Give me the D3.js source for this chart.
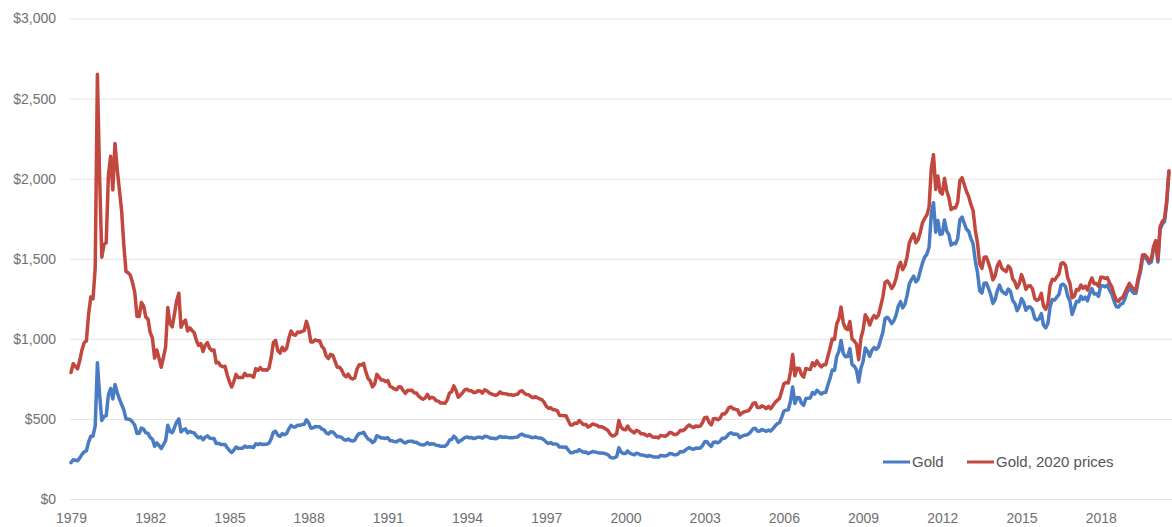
<!DOCTYPE html>
<html>
<head>
<meta charset="utf-8">
<script src="https://cdn.jsdelivr.net/npm/d3@7"></script>
<style>
  html, body { margin: 0; padding: 0; background: #fff; }
  svg { display: block; }
  text { font-family: "Liberation Sans", Arial, sans-serif; }
</style>
</head>
<body>
<svg id="chart" width="1172" height="527"></svg>
<script>
// ---- Data (monthly, starting Jan 1979) ----
const startYear = 1979;
const seriesNames = ["Gold", "Gold, 2020 prices"];
const seriesColors = ["#4a7cc3", "#c2473f"];

const gold = [
  227,245,242,239,257,279,295,301,355,392,392,456,
  850,650,490,515,520,650,690,625,715,665,625,590,
  557,500,499,495,480,460,409,410,443,437,413,410,
  384,374,330,350,334,315,339,364,460,422,414,445,
  481,500,419,432,438,413,422,416,412,394,382,388,
  370,386,394,381,377,378,347,348,341,340,341,320,
  303,290,304,324,316,317,317,330,323,326,325,322,
  345,339,346,340,342,342,348,376,418,423,398,391,
  408,401,409,438,460,450,450,461,460,465,467,495,
  477,442,444,452,451,451,437,432,413,406,420,419,
  404,388,390,384,371,367,375,365,362,367,394,409,
  410,417,393,374,369,352,362,395,389,381,381,378,
  383,364,363,358,357,367,368,356,349,359,360,361,
  354,354,345,339,337,341,353,341,345,344,335,334,
  329,329,330,342,367,372,392,379,355,364,373,383,
  387,382,384,377,381,386,385,380,392,390,384,379,
  379,376,382,391,385,387,386,383,383,383,386,387,
  400,405,396,393,392,385,383,387,383,381,378,369,
  355,347,352,344,344,341,324,324,323,325,306,289,
  289,297,296,308,299,292,293,284,289,296,294,291,
  287,287,286,282,277,262,256,257,265,320,293,284,
  284,300,286,280,275,286,282,274,274,270,266,272,
  265,262,263,261,272,270,268,273,284,283,276,276,
  282,296,294,302,314,321,314,310,319,317,319,333,
  357,359,340,328,355,356,351,360,379,379,389,407,
  414,405,406,403,383,392,398,400,406,420,439,442,
  424,423,434,429,422,431,424,438,456,470,476,510,
  549,555,557,610,700,596,633,632,598,585,627,629,
  631,665,655,679,667,655,665,665,712,754,806,803,
  889,922,990,909,888,889,939,839,829,806,730,816,
  858,943,924,890,928,946,934,949,996,1043,1127,1135,
  1118,1095,1113,1148,1205,1232,1193,1215,1271,1343,1370,1391,
  1356,1372,1424,1474,1510,1529,1572,1780,1850,1666,1739,1652,
  1656,1742,1673,1650,1585,1596,1594,1626,1744,1760,1721,1684,
  1671,1627,1593,1487,1414,1300,1286,1347,1349,1316,1275,1221,
  1244,1300,1336,1299,1287,1279,1311,1296,1238,1222,1176,1201,
  1251,1227,1179,1198,1199,1181,1128,1117,1125,1157,1086,1068,
  1097,1200,1246,1242,1260,1276,1337,1341,1326,1267,1236,1152,
  1192,1234,1231,1266,1246,1260,1237,1283,1314,1280,1282,1265,
  1331,1331,1325,1335,1304,1281,1238,1202,1198,1215,1221,1250,
  1291,1320,1300,1285,1284,1359,1413,1500,1510,1495,1471,1480,
  1560,1597,1480,1683,1716,1732,1846,2040
];

const gold2020 = [
  790,845,828,813,866,932,976,987,1154,1262,1250,1441,
  2652,2010,1510,1590,1600,2020,2140,1930,2220,2060,1930,1800,
  1587,1420,1412,1396,1349,1288,1141,1140,1227,1206,1136,1123,
  1040,1005,880,930,880,822,885,950,1196,1095,1075,1153,
  1236,1285,1073,1102,1117,1049,1068,1052,1038,989,959,970,
  921,961,977,941,927,930,850,853,832,826,829,774,
  733,699,733,778,758,758,758,785,769,773,770,760,
  814,803,820,806,807,804,818,884,978,990,927,911,
  947,926,941,1003,1049,1026,1022,1042,1040,1046,1051,1109,
  1064,981,981,994,988,988,953,937,892,877,903,897,
  861,823,823,806,775,763,780,756,749,756,812,838,
  836,847,794,752,738,700,717,778,762,743,743,733,
  739,703,697,687,682,701,699,676,660,679,677,679,
  662,662,642,631,623,631,653,627,635,630,613,611,
  599,599,597,619,661,670,706,678,635,648,664,682,
  685,676,676,664,667,676,674,661,682,675,664,656,
  652,647,653,669,658,658,656,651,651,647,652,654,
  672,676,661,652,651,639,632,639,632,625,620,605,
  579,566,570,557,557,552,522,522,520,520,490,462,
  462,475,471,490,475,464,466,449,457,468,465,460,
  451,451,446,437,429,406,394,396,408,490,448,435,
  432,456,432,423,413,429,423,408,408,402,394,403,
  390,385,387,381,397,394,391,399,415,413,403,403,
  412,429,426,435,452,462,452,446,456,453,456,476,
  507,510,479,462,501,502,495,504,531,531,545,570,
  575,563,560,556,525,537,545,548,552,571,597,601,
  572,571,582,575,565,578,564,583,602,616,628,673,
  719,727,724,793,903,769,817,815,777,761,815,811,
  808,851,832,862,840,825,838,838,890,943,999,996,
  1093,1125,1198,1100,1066,1058,1108,998,987,967,870,1004,
  1055,1150,1127,1086,1123,1145,1130,1148,1205,1262,1352,1362,
  1342,1314,1336,1378,1446,1478,1432,1458,1512,1598,1630,1655,
  1600,1619,1666,1725,1752,1774,1824,2065,2150,1933,2017,1916,
  1904,2003,1924,1881,1807,1819,1817,1854,1988,2006,1962,1920,
  1888,1839,1800,1680,1598,1469,1440,1509,1511,1474,1428,1368,
  1393,1456,1483,1442,1429,1420,1455,1439,1374,1356,1317,1345,
  1401,1362,1309,1330,1331,1311,1252,1240,1249,1284,1205,1185,
  1218,1332,1371,1366,1386,1404,1471,1475,1459,1381,1347,1256,
  1264,1308,1305,1336,1315,1329,1305,1347,1380,1344,1346,1328,
  1384,1384,1378,1382,1350,1326,1281,1244,1234,1251,1258,1288,
  1317,1346,1326,1311,1303,1379,1434,1523,1525,1510,1486,1495,
  1576,1613,1495,1700,1733,1749,1864,2050
];

const yTicks = [0, 500, 1000, 1500, 2000, 2500, 3000];
const xTicks = [1979, 1982, 1985, 1988, 1991, 1994, 1997, 2000, 2003, 2006, 2009, 2012, 2015, 2018];

// ---- Chart ----
const svg = d3.select("#chart");
const plotLeft = 70, plotRight = 1172, plotTop = 18.5, plotBottom = 499;

const x = d3.scaleLinear().domain([1979, 2020.7]).range([71, plotRight]);
const y = d3.scaleLinear().domain([0, 3000]).range([plotBottom, plotTop]);

// Y axis with gridlines
const yAxis = d3.axisLeft(y)
  .tickValues(yTicks)
  .tickSize(-(plotRight - plotLeft))
  .tickPadding(14)
  .tickFormat(d => "$" + d3.format(",")(d));

const gy = svg.append("g")
  .attr("transform", `translate(${plotLeft},0)`)
  .call(yAxis);
gy.select(".domain").remove();
gy.selectAll(".tick line").attr("stroke", "#e3e3e3").attr("stroke-width", 1);
gy.selectAll(".tick text")
  .attr("fill", "#707070")
  .style("font-size", "14px")
  .style("font-family", "'Liberation Sans', Arial, sans-serif");

// X axis
const xAxis = d3.axisBottom(x)
  .tickValues(xTicks)
  .tickSize(0)
  .tickPadding(14)
  .tickFormat(d3.format("d"));

const gx = svg.append("g")
  .attr("transform", `translate(0,${plotBottom})`)
  .call(xAxis);
gx.select(".domain").remove();
gx.selectAll(".tick text")
  .attr("fill", "#707070")
  .style("font-size", "14px")
  .style("font-family", "'Liberation Sans', Arial, sans-serif");

// Lines
const toPoints = arr => arr.map((v, i) => ({ t: startYear + i / 12, v }));
const line = d3.line().x(d => x(d.t)).y(d => y(d.v));

const series = [toPoints(gold), toPoints(gold2020)];
series.forEach((pts, k) => {
  svg.append("path")
    .datum(pts)
    .attr("fill", "none")
    .attr("stroke", seriesColors[k])
    .attr("stroke-width", 3.5)
    .attr("stroke-linejoin", "round")
    .attr("stroke-linecap", "round")
    .attr("d", line);
});

// Legend
const legendX = [883, 967];
const legendY = 462;
const lg = svg.append("g");
seriesNames.forEach((name, k) => {
  const g = lg.append("g").attr("transform", `translate(${legendX[k]},${legendY})`);
  g.append("line")
    .attr("x1", 0).attr("x2", 27)
    .attr("y1", 0).attr("y2", 0)
    .attr("stroke", seriesColors[k])
    .attr("stroke-width", 3);
  g.append("text")
    .attr("x", 29)
    .attr("y", 0)
    .attr("dy", "0.36em")
    .attr("fill", "#555")
    .style("font-size", "15px")
    .text(name);
});
</script>
</body>
</html>
